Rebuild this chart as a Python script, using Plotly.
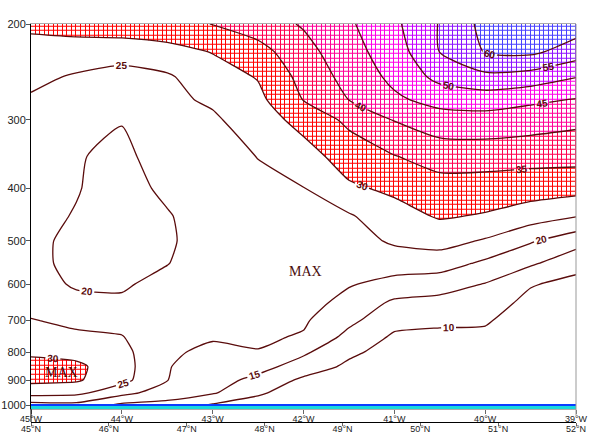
import numpy as np
import plotly.graph_objects as go

# ---------------- data ----------------
LON = [-45.0, -44.5, -44.0, -43.5, -43.0, -42.5, -42.0, -41.5, -41.0, -40.5, -40.0, -39.5, -39.0]
PRES = [200, 225, 250, 275, 300, 350, 400, 450, 500, 550, 600, 650, 700, 750, 800, 850, 900, 950, 1000]

# wind speed (rows = PRES, cols = LON)
Z = [
    [31.0, 32.0, 33.0, 33.5, 35.1, 37.5, 40.5, 44.3, 49.0, 55.3, 61.5, 64.0, 62.5],
    [28.2, 27.7, 27.0, 28.2, 30.2, 33.2, 38.2, 43.2, 47.5, 55.1, 60.3, 61.0, 57.6],
    [26.1, 24.5, 23.3, 24.4, 27.8, 30.3, 36.6, 41.7, 46.2, 51.5, 53.8, 52.9, 50.2],
    [24.5, 23.5, 22.0, 24.0, 25.7, 28.8, 35.2, 40.1, 44.2, 46.7, 47.4, 46.0, 44.8],
    [23.5, 22.5, 20.2, 23.3, 24.3, 27.4, 31.8, 36.0, 40.2, 42.9, 43.1, 42.4, 41.2],
    [22.5, 20.3, 19.0, 22.0, 23.2, 25.1, 27.8, 32.4, 34.8, 37.0, 37.2, 36.7, 36.6],
    [22.0, 20.2, 18.5, 20.8, 22.5, 24.0, 24.9, 29.2, 31.0, 33.1, 32.7, 32.3, 31.8],
    [21.0, 19.8, 18.3, 19.7, 22.0, 23.3, 23.8, 24.5, 28.1, 30.5, 29.6, 27.5, 25.3],
    [20.8, 19.2, 18.5, 19.5, 21.8, 22.8, 23.0, 23.0, 25.7, 26.8, 24.5, 20.5, 16.9],
    [20.8, 19.2, 19.0, 19.9, 21.8, 22.5, 23.2, 21.7, 22.4, 22.3, 19.0, 15.7, 11.8],
    [21.0, 19.7, 19.6, 21.0, 21.8, 22.2, 23.0, 20.4, 18.3, 17.1, 14.8, 10.4, 8.5],
    [23.0, 20.7, 20.5, 22.0, 21.6, 21.8, 22.0, 18.3, 14.1, 13.4, 12.5, 8.5, 7.5],
    [25.3, 23.8, 23.5, 22.5, 21.0, 21.3, 20.6, 16.2, 11.5, 10.8, 10.5, 7.5, 6.8],
    [27.5, 26.0, 25.2, 21.5, 20.3, 20.7, 19.6, 13.5, 9.3, 9.0, 9.0, 6.8, 6.3],
    [29.0, 28.4, 26.5, 20.5, 19.3, 19.8, 15.8, 11.0, 8.0, 8.0, 8.0, 6.2, 6.0],
    [32.0, 31.0, 27.0, 20.2, 18.2, 16.7, 12.8, 9.0, 7.0, 7.0, 7.0, 5.7, 5.5],
    [31.2, 30.6, 26.5, 20.1, 17.0, 13.6, 9.0, 7.5, 6.0, 6.0, 6.0, 5.3, 5.2],
    [27.0, 26.3, 21.5, 17.5, 15.5, 10.8, 7.0, 6.5, 5.5, 5.0, 5.0, 5.0, 5.0],
    [18.0, 18.5, 14.0, 13.5, 9.5, 7.5, 5.0, 5.5, 5.0, 4.5, 4.5, 4.5, 4.5],
]

P_TICKS = [200, 300, 400, 500, 600, 700, 800, 900, 1000]
P_LABELS = ["200", "300", "400", "500", "600", "700", "800", "900", "1000"]
LON_TICKS = [-45, -44, -43, -42, -41, -40, -39]
LON_LABELS = ["45°W", "44°W", "43°W", "42°W", "41°W", "40°W", "39°W"]
LAT_TICKS = [45, 46, 47, 48, 49, 50, 51, 52]
LAT_LABELS = ["45°N", "46°N", "47°N", "48°N", "49°N", "50°N", "51°N", "52°N"]

SFC_LON = [-45.0, -39.0]
SFC_P = [1000, 1000]
P_BOTTOM = 1017

MAX_LON = [-41.98, -44.66]
MAX_P = [570, 870]

# ---------------- style ----------------
HATCH_COLORS = ['#ff0000', '#ff0050', '#ff0098', '#ff00e8', '#c800ff', '#8c14ff', '#4a40ff']
LINE_COLOR = '#5a0c0c'
FONT = 'Liberation Sans'

cols = ['rgba(255,255,255,1)'] + HATCH_COLORS
n = len(cols) - 1
cscale = []
for k, c in enumerate(cols):
    lo = max(0.0, (k - 0.5) / n)
    hi = min(1.0, (k + 0.5) / n)
    cscale += [[lo, c], [hi, c]]

fig = go.Figure()

# coloured fill (>= 30) on the base subplot
fig.add_trace(go.Contour(
    x=LON, y=PRES, z=Z, autocontour=False,
    contours=dict(start=30, end=60, size=5, coloring='fill', showlines=False),
    line=dict(width=0, smoothing=0.6), colorscale=cscale, showscale=False,
    hoverinfo='skip', xaxis='x', yaxis='y'))

# white mask with 1px gaps -> crosshatch texture (styling only), on overlay subplot
NX, NY = 120, 85
fig.add_trace(go.Heatmap(
    z=np.ones((NY, NX)), x0=-45 + 0.025, dx=0.05,
    y=np.geomspace(200, P_BOTTOM, NY),
    colorscale=[[0, 'white'], [1, 'white']], zmin=0, zmax=1,
    xgap=1, ygap=1, showscale=False, hoverinfo='skip', xaxis='x', yaxis='y2'))

# isotach lines with labels
fig.add_trace(go.Contour(
    x=LON, y=PRES, z=Z, autocontour=False,
    contours=dict(start=10, end=60, size=5, coloring='none', showlabels=True,
                  labelfont=dict(size=10, color=LINE_COLOR, family=FONT, weight='bold')),
    line=dict(color=LINE_COLOR, width=1.3, smoothing=0.6),
    showscale=False, hoverinfo='skip', xaxis='x', yaxis='y2'))

# ground
fig.add_trace(go.Scatter(x=SFC_LON, y=[P_BOTTOM] * len(SFC_LON), mode='lines',
                         line=dict(width=0), hoverinfo='skip', xaxis='x', yaxis='y2'))
fig.add_trace(go.Scatter(x=SFC_LON, y=SFC_P, mode='lines', fill='tonexty',
                         fillcolor='#18d8dc', line=dict(color='#0a3cff', width=2),
                         hoverinfo='skip', xaxis='x', yaxis='y2'))

# dummy trace to activate the latitude axis
fig.add_trace(go.Scatter(x=LAT_TICKS, y=[None] * len(LAT_TICKS), xaxis='x2', yaxis='y',
                         mode='markers', hoverinfo='skip'))

for lo, p in zip(MAX_LON, MAX_P):
    fig.add_annotation(x=lo, y=np.log10(p), xref='x', yref='y', text='MAX', showarrow=False,
                       font=dict(family='Liberation Serif', size=14, color='#4a0c0c'))

W, H = 600, 441
M_T, M_B = 24, 14
PLOT_BOTTOM, LAT_LINE = 409, 422      # figure pixels
paper_h = H - M_T - M_B
YDOM0 = (H - M_B - PLOT_BOTTOM) / paper_h
LATPOS = (H - M_B - LAT_LINE) / paper_h

fig.add_shape(type='line', xref='paper', yref='paper', x0=0, x1=0, y0=LATPOS, y1=YDOM0,
              line=dict(color='black', width=1))
fig.add_shape(type='line', xref='paper', yref='paper', x0=1, x1=1, y0=LATPOS + 0.016, y1=1,
              line=dict(color='#999999', width=1))

tickfont_x = dict(size=9, family=FONT, color='#222')
yr = [np.log10(P_BOTTOM), np.log10(200)]
fig.update_layout(
    width=W, height=H, margin=dict(l=31, r=24, t=M_T, b=M_B, autoexpand=False),
    paper_bgcolor='white', plot_bgcolor='white', showlegend=False,
    xaxis=dict(range=[-45, -39], tickvals=LON_TICKS, ticktext=LON_LABELS, ticks='outside',
               ticklen=4, tickcolor='#666', showline=True, linecolor='#aaaaaa', mirror=True,
               showgrid=False, zeroline=False, tickfont=tickfont_x, anchor='y',
               automargin=False, ticklabelstandoff=-3),
    xaxis2=dict(range=[45, 52], overlaying='x', anchor='free', position=LATPOS, side='bottom',
                tickvals=LAT_TICKS, ticktext=LAT_LABELS, ticks='outside', ticklen=3,
                tickcolor='#666', showline=True, linecolor='black', showgrid=False,
                zeroline=False, tickfont=tickfont_x, automargin=False, ticklabelstandoff=-5),
    yaxis=dict(type='log', range=yr, domain=[YDOM0, 1],
               tickvals=P_TICKS, ticktext=P_LABELS, ticks='outside', ticklen=4,
               tickcolor='#555', showline=True, linecolor='black', showgrid=False,
               zeroline=False, tickfont=dict(size=11, family=FONT, color='#222'),
               automargin=False, ticklabelstandoff=-2),
    yaxis2=dict(type='log', range=yr, domain=[YDOM0, 1], overlaying='y', anchor='x',
                visible=False, showgrid=False, zeroline=False, automargin=False),
)

# remove the page's default 8px body margin so the figure sits at the window origin
fig.write_html("out.html", config={'displayModeBar': False},
               post_script="document.body.style.margin='0px';")
